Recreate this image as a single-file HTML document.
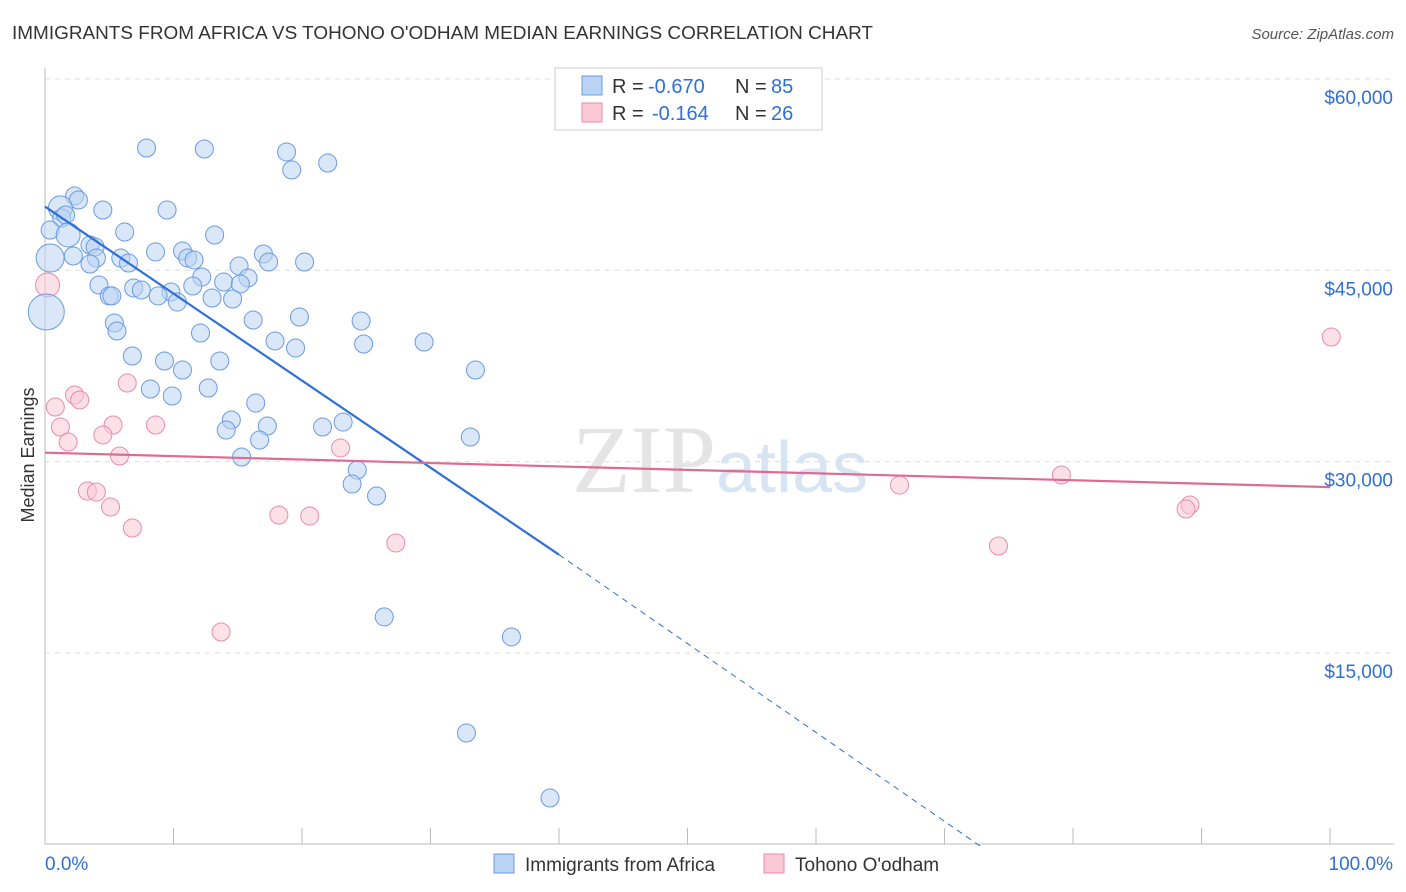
<!DOCTYPE html>
<html><head><meta charset="utf-8">
<style>
body{margin:0;background:#fff;font-family:"Liberation Sans",sans-serif;}
#wrap{position:relative;width:1406px;height:892px;overflow:hidden;}
</style></head>
<body>
<div id="wrap">
<svg id="svg" width="1406" height="892" xmlns="http://www.w3.org/2000/svg">
<text x="12" y="39" font-size="18" fill="#333" textLength="861" lengthAdjust="spacingAndGlyphs">IMMIGRANTS FROM AFRICA VS TOHONO O'ODHAM MEDIAN EARNINGS CORRELATION CHART</text>
<text x="1394" y="39" font-size="15" fill="#555" font-style="italic" text-anchor="end">Source: ZipAtlas.com</text>
<text x="34" y="455" font-size="18" fill="#333" text-anchor="middle" transform="rotate(-90 34 455)">Median Earnings</text>
<g id="grid"></g>
<text x="720" y="492" font-size="96" fill="#e4e4e4" text-anchor="middle" font-family="Liberation Serif">ZIP<tspan fill="#d6e4f4" font-family="Liberation Sans" font-size="72">atlas</tspan></text>
<g id="marks"></g>
<g>
<rect x="555" y="68" width="267" height="62" fill="#fff" stroke="#ccc"/>
<rect x="582" y="76" width="20" height="19" fill="#b9d3f4" stroke="#6a9be0"/>
<rect x="582" y="103" width="20" height="19" fill="#fbc8d6" stroke="#e98ba8"/>
<text x="612" y="93" font-size="20" fill="#333">R =</text>
<text x="648" y="93" font-size="20" fill="#2f6fd6">-0.670</text>
<text x="735" y="93" font-size="20" fill="#333">N =</text>
<text x="771" y="93" font-size="20" fill="#2f6fd6">85</text>
<text x="612" y="120" font-size="20" fill="#333">R =</text>
<text x="652" y="120" font-size="20" fill="#2f6fd6">-0.164</text>
<text x="735" y="120" font-size="20" fill="#333">N =</text>
<text x="771" y="120" font-size="20" fill="#2f6fd6">26</text>
</g>
<g>
<rect x="494" y="854" width="20" height="19" fill="#b9d3f4" stroke="#6a9be0"/>
<text x="525" y="871" font-size="19" fill="#333">Immigrants from Africa</text>
<rect x="764" y="854" width="20" height="19" fill="#fbc8d6" stroke="#e98ba8"/>
<text x="795" y="871" font-size="19" fill="#333">Tohono O'odham</text>
</g>
</svg>
</div>
<script>
const yTicks=[60000,45000,30000,15000];
const yTickLabels=["$60,000","$45,000","$30,000","$15,000"];
const xTickLabels=["0.0%","100.0%"];
const blueX=[7.9,12.4,18.8,22.0,19.2,2.3,2.6,4.5,9.5,1.2,1.3,1.6,0.4,1.8,6.2,13.2,3.5,3.9,8.6,10.7,17.0,5.9,11.1,11.6,20.2,2.2,0.4,4.0,3.5,6.5,15.1,17.4,12.2,15.8,13.9,15.2,4.2,6.9,7.5,11.5,9.8,5.0,5.2,8.8,13.0,14.6,10.3,0.1,5.4,16.2,19.8,24.6,5.6,12.1,17.9,19.5,24.8,29.5,6.8,9.3,13.6,10.7,33.5,8.2,12.7,9.9,16.4,14.5,17.3,21.6,23.2,14.1,33.1,16.7,15.3,24.3,23.9,25.8,26.4,36.3,32.8,39.3];
const blueY=[54590,54510,54280,53410,52870,50830,50510,49730,49730,49890,49100,49340,48160,47770,48000,47770,46980,46830,46440,46510,46280,45960,45960,45810,45650,46120,45960,45960,45490,45570,45340,45650,44470,44400,44080,43930,43850,43610,43460,43770,43300,42990,42990,42990,42830,42750,42510,41730,40870,41100,41340,41020,40240,40080,39460,38910,39220,39380,38280,37890,37890,37180,37180,35690,35770,35140,34590,33260,32790,32710,33100,32480,31930,31690,30360,29340,28240,27300,17820,16250,8720,3620];
const blueR=[9,9,9,9,9,9,9,9,9,12,9,9,9,12,9,9,9,9,9,9,9,9,9,9,9,9,14,9,9,9,9,9,9,9,9,9,9,9,9,9,9,9,9,9,9,9,9,18,9,9,9,9,9,9,9,9,9,9,9,9,9,9,9,9,9,9,9,9,9,9,9,9,9,9,9,9,9,9,9,9,9,9];
const pinkX=[0.2,100.1,6.4,2.3,2.7,0.8,1.2,5.3,8.6,4.5,1.8,23.0,5.8,79.1,66.5,3.3,4.0,5.1,89.1,88.8,18.2,20.6,6.8,27.3,74.2,13.7];
const pinkY=[43850,39770,36160,35220,34830,34280,32710,32870,32870,32090,31540,31070,30440,28950,28160,27690,27610,26440,26600,26280,25810,25730,24790,23620,23380,16640];
const pinkR=[12,9,9,9,9,9,9,9,9,9,9,9,9,9,9,9,9,9,9,9,9,9,9,9,9,9];
const blueTrend=[[0,50000],[40,22700],[73,-300]];
const pinkTrend=[[0,30700],[100,28000]];
const X0=45,X1=1330,Y60=79,PX15=191.3;
const xs=p=>X0+(X1-X0)*p/100;
const ys=v=>Y60+(60000-v)/15000*PX15;
const NS="http://www.w3.org/2000/svg";
const grid=document.getElementById('grid'),marks=document.getElementById('marks');
function mk(tag,attrs,parent){const e=document.createElementNS(NS,tag);for(const k in attrs)e.setAttribute(k,attrs[k]);parent.appendChild(e);return e;}
let ax=mk('line',{x1:45,y1:68,x2:45,y2:844,stroke:'#bbb'},grid);


let bx=mk('line',{x1:45,y1:844,x2:1394,y2:844,stroke:'#bbb'},grid);


yTicks.forEach((v,i)=>{
 const g=mk('line',{x1:45,y1:ys(v),x2:1394,y2:ys(v),stroke:'#ddd','stroke-dasharray':'5,5'},grid);
 
 
 const t=mk('text',{x:1393,y:ys(v)+25,'font-size':19,fill:'#2f6fd6','text-anchor':'end'},grid);
 t.textContent=yTickLabels[i];
 
 
});
for(let i=1;i<=10;i++){
 const x=xs(i*10);
 const t=mk('line',{x1:x,y1:828,x2:x,y2:844,stroke:'#bbb'},grid);
 
 
}
[[45,'start'],[1393,'end']].forEach((a,i)=>{
 const t=mk('text',{x:a[0],y:870,'font-size':19,fill:'#2f6fd6','text-anchor':a[1]},grid);
 t.textContent=xTickLabels[i];
 
 
});
function dots(X,Y,R,fill,stroke,name){
 X.forEach((x,i)=>{
  const c=mk('circle',{cx:xs(x),cy:ys(Y[i]),r:R[i],fill:fill,'fill-opacity':0.55,stroke:stroke,'stroke-width':1},marks);
  
  
 });
}
dots(pinkX,pinkY,pinkR,'#fbc8d6','#e98ba8','tohono-point');
dots(blueX,blueY,blueR,'#b9d3f4','#6a9be0','africa-point');
let l1=mk('line',{x1:xs(blueTrend[0][0]),y1:ys(blueTrend[0][1]),x2:xs(blueTrend[1][0]),y2:ys(blueTrend[1][1]),stroke:'#2f6fd6','stroke-width':2.2},marks);


let l2=mk('line',{x1:xs(blueTrend[1][0]),y1:ys(blueTrend[1][1]),x2:xs(blueTrend[2][0]),y2:ys(blueTrend[2][1]),stroke:'#2f6fd6','stroke-width':1,'stroke-dasharray':'6,5'},marks);


let l3=mk('line',{x1:xs(pinkTrend[0][0]),y1:ys(pinkTrend[0][1]),x2:xs(pinkTrend[1][0]),y2:ys(pinkTrend[1][1]),stroke:'#e06a92','stroke-width':2.2},marks);


</script>
</body></html>
